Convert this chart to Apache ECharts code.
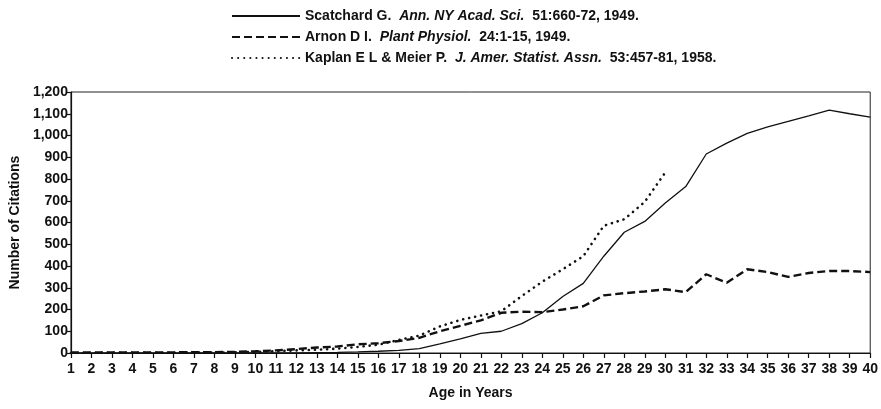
<!DOCTYPE html>
<html>
<head>
<meta charset="utf-8">
<script src="https://cdn.jsdelivr.net/npm/echarts@6/dist/echarts.min.js"></script>
<style>html,body{margin:0;padding:0;background:#fff;}#c{width:881px;height:409px;}</style>
</head>
<body>
<div id="c"></div>
<script>
var ages = [];
for (var a = 1; a <= 40; a++) ages.push(String(a));

var yTicks = [0,100,200,300,400,500,600,700,800,900,1000,1100,1200];

var scatchard = [0,0,0,0,0,0,0,0,0,1,1,1,2,3,5,8,12,20,42,65,90,100,135,185,260,320,445,555,605,690,765,915,965,1010,1040,1065,1090,1117,1100,1084];
var arnon = [2,2,3,3,3,3,4,4,5,8,12,18,25,30,40,45,55,70,100,125,150,185,190,188,200,215,265,275,283,293,280,362,323,385,372,350,368,377,377,372];
var kaplan = [0,0,1,1,1,1,2,2,3,5,8,12,15,20,28,38,60,80,122,152,172,192,262,328,385,445,585,615,695,830];

var authors = ['Scatchard G.', 'Arnon D I.', 'Kaplan E L & Meier P.'];
var journals = ['Ann. NY Acad. Sci.', 'Plant Physiol.', 'J. Amer. Statist. Assn.'];
var refs = ['51:660-72, 1949.', '24:1-15, 1949.', '53:457-81, 1958.'];
var names = [authors[0], authors[1], authors[2]];

var FONT = '"Liberation Sans",Arial,sans-serif';

var chart = echarts.init(document.getElementById('c'), null, {renderer: 'canvas'});
chart.setOption({
  animation: false,
  backgroundColor: '#fff',
  grid: {left: 70, right: 9, top: 92, bottom: 56, show: true, borderColor: '#222', borderWidth: 1},
  legend: {
    orient: 'vertical',
    left: 226,
    top: 4,
    itemWidth: 68,
    itemHeight: 14,
    itemGap: 7,
    data: names,
    itemStyle: {opacity: 0},
    formatter: function (n) {
      var i = names.indexOf(n);
      return '{b|' + authors[i] + '  }{i|' + journals[i] + '}{b|  ' + refs[i] + '}';
    },
    textStyle: {
      color: '#111',
      rich: {
        b: {fontFamily: FONT, fontWeight: 'bold', fontSize: 14, color: '#111'},
        i: {fontFamily: FONT, fontWeight: 'bold', fontStyle: 'italic', fontSize: 14, color: '#111'}
      }
    }
  },
  xAxis: {
    type: 'category',
    data: ages,
    boundaryGap: false,
    name: 'Age in Years',
    nameLocation: 'middle',
    nameGap: 33,
    nameTextStyle: {fontFamily: FONT, fontWeight: 'bold', fontSize: 14, color: '#111', verticalAlign: 'top'},
    axisLine: {lineStyle: {color: '#111', width: 1.2}},
    axisTick: {show: true, length: 5, alignWithLabel: true, interval: 0, lineStyle: {color: '#111', width: 1.2}},
    axisLabel: {interval: 0, margin: 9, fontFamily: FONT, fontWeight: 'bold', fontSize: 14, color: '#111'},
    splitLine: {show: false}
  },
  yAxis: {
    type: 'value',
    min: 0,
    max: 1200,
    interval: 100,
    name: 'Number of Citations',
    nameLocation: 'middle',
    nameGap: 48,
    nameRotate: 90,
    nameTextStyle: {fontFamily: FONT, fontWeight: 'bold', fontSize: 14, color: '#111'},
    axisLine: {show: true, lineStyle: {color: '#111', width: 1.2}},
    axisTick: {show: true, length: 4, lineStyle: {color: '#111', width: 1.2}},
    axisLabel: {margin: 3, fontFamily: FONT, fontWeight: 'bold', fontSize: 14, color: '#111',
      formatter: function (v) { return yTicks.indexOf(v) >= 0 ? v.toLocaleString('en-US') : ''; }},
    splitLine: {show: false}
  },
  series: [
    {name: names[0], type: 'line', data: scatchard, symbol: 'none', showSymbol: false,
     lineStyle: {color: '#111', width: 1.3, type: 'solid'}, itemStyle: {color: '#111'}},
    {name: names[1], type: 'line', data: arnon, symbol: 'none', showSymbol: false,
     lineStyle: {color: '#111', width: 2.4, type: [8, 4]}, itemStyle: {color: '#111'}},
    {name: names[2], type: 'line', data: kaplan, symbol: 'none', showSymbol: false,
     lineStyle: {color: '#111', width: 2.6, type: [0.1, 6], cap: 'round'}, itemStyle: {color: '#111'}}
  ]
});
</script>
</body>
</html>
